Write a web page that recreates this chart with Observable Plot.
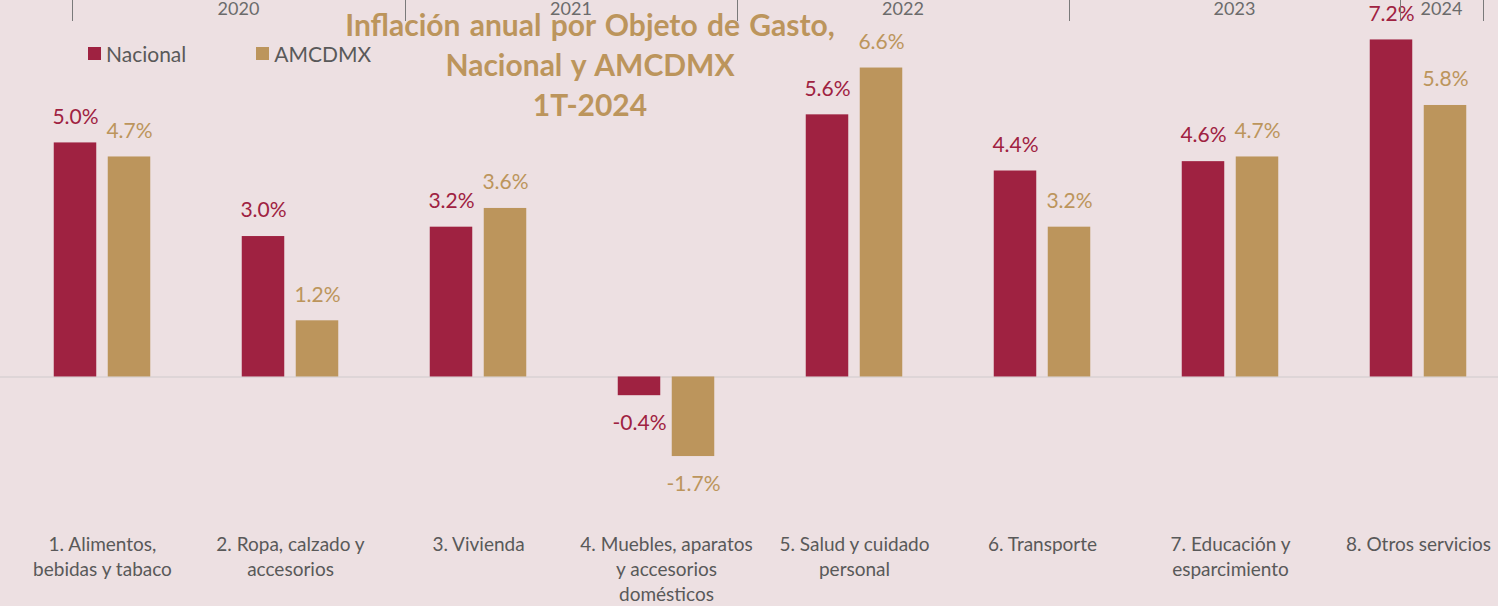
<!DOCTYPE html>
<html>
<head>
<meta charset="utf-8">
<script src="https://cdn.jsdelivr.net/npm/d3@7"></script>
<script src="https://cdn.jsdelivr.net/npm/@observablehq/plot@0.6"></script>
<style>
  html, body { margin: 0; padding: 0; }
  body { width: 1498px; height: 606px; background: #ede0e2; font-family: Lato, "Open Sans", sans-serif; overflow: hidden; }
  #wrap { position: relative; width: 1498px; height: 606px; }
  #chart { position: absolute; left: 0; top: 0; }
  #title { position: absolute; left: 240px; width: 700px; top: 4px; text-align: center; color: #bc955c; font-weight: 700; font-size: 30px; line-height: 40px; word-spacing: 2px; }
  #legend { position: absolute; left: 88px; top: 41px; display: flex; font-size: 21px; color: #595959; }
  #legend .item { display: flex; align-items: center; }
  #legend .sw { width: 13px; height: 13px; margin-right: 5px; }
  .yr { position: absolute; top: -3px; font-size: 18px; color: #6b6b6b; transform: translateX(-50%); }
  .yt { position: absolute; top: 0; width: 1px; height: 21px; background: #7a7a7a; }
</style>
</head>
<body>
<div id="wrap">
  <div id="chart"></div>
  <div id="years"></div>
  <div id="legend"></div>
  <div id="title">Inflación anual por Objeto de Gasto,<br>Nacional y AMCDMX<br>1T-2024</div>
</div>
<script>
// ---- data ----
const categories = [
  "1. Alimentos, bebidas y tabaco",
  "2. Ropa, calzado y accesorios",
  "3. Vivienda",
  "4. Muebles, aparatos y accesorios domésticos",
  "5. Salud y cuidado personal",
  "6. Transporte",
  "7. Educación y esparcimiento",
  "8. Otros servicios"
];
const categoryLabels = [
  "1. Alimentos,\nbebidas y tabaco",
  "2. Ropa, calzado y\naccesorios",
  "3. Vivienda",
  "4. Muebles, aparatos\ny accesorios\ndomésticos",
  "5. Salud y cuidado\npersonal",
  "6. Transporte",
  "7. Educación y\nesparcimiento",
  "8. Otros servicios"
];
const seriesNames = ["Nacional", "AMCDMX"];
const nacional = [5.0, 3.0, 3.2, -0.4, 5.6, 4.4, 4.6, 7.2];
const amcdmx   = [4.7, 1.2, 3.6, -1.7, 6.6, 3.2, 4.7, 5.8];
const years = ["2020", "2021", "2022", "2023", "2024"];

const colors = ["#9f2241", "#bc955c"];

const rows = [];
categories.forEach((c, i) => {
  rows.push({cat: c, series: "Nacional", value: nacional[i]});
  rows.push({cat: c, series: "AMCDMX", value: amcdmx[i]});
});
const labelOf = new Map(categories.map((c, i) => [c, categoryLabels[i]]));
const fmt = v => v.toFixed(1) + "%";
const xRange = [6, 1514];
const step = (xRange[1] - xRange[0]) / categories.length;
const off = 27;
const barInset = (step - 43) / 2;

const marks = [];
marks.push(Plot.ruleY([0], {stroke: "#d8d2d3", strokeWidth: 1.5}));
seriesNames.forEach((s, k) => {
  const d = rows.filter(r => r.series === s);
  const dx = k === 0 ? -off : off;
  marks.push(Plot.barY(d, {x: "cat", y: "value", fill: "series", dx, insetLeft: barInset, insetRight: barInset}));
  marks.push(Plot.text(d.filter(r => r.value >= 0), {x: "cat", y: "value", text: r => fmt(r.value), fill: "series", dx, dy: -26, fontSize: 21}));
  marks.push(Plot.text(d.filter(r => r.value < 0), {x: "cat", y: "value", text: r => fmt(r.value), fill: "series", dx, dy: 28, fontSize: 21}));
});
marks.push(Plot.text(categories, {x: d => d, text: d => labelOf.get(d), frameAnchor: "bottom", lineAnchor: "top", dy: 3, fontSize: 19, fill: "#595959", lineHeight: 1.32}));

const chart = Plot.plot({
  width: 1498,
  height: 606,
  marginTop: 2,
  marginBottom: 76,
  marginLeft: 0,
  marginRight: 0,
  style: {background: "transparent", fontFamily: "Lato, 'Open Sans', sans-serif", overflow: "visible"},
  x: {domain: categories, range: xRange, padding: 0, axis: null},
  y: {domain: [-3.28, 8], axis: null},
  color: {domain: seriesNames, range: colors},
  marks
});
document.getElementById("chart").appendChild(chart);

// legend
const leg = document.getElementById("legend");
seriesNames.forEach((s, i) => {
  const it = document.createElement("div");
  it.className = "item";
  it.style.marginRight = i === 0 ? "70px" : "0";
  it.innerHTML = `<span class="sw" style="background:${colors[i]}"></span><span>${s}</span>`;
  leg.appendChild(it);
});

// top year strip (decorative axis)
const yearTicks = [72, 405, 737, 1069, 1400, 1483];
const yEl = document.getElementById("years");
yearTicks.forEach(x => {
  const t = document.createElement("div"); t.className = "yt"; t.style.left = x + "px"; yEl.appendChild(t);
});
years.forEach((y, i) => {
  const t = document.createElement("div"); t.className = "yr";
  t.style.left = ((yearTicks[i] + yearTicks[i + 1]) / 2) + "px";
  t.textContent = y; yEl.appendChild(t);
});
</script>
</body>
</html>
